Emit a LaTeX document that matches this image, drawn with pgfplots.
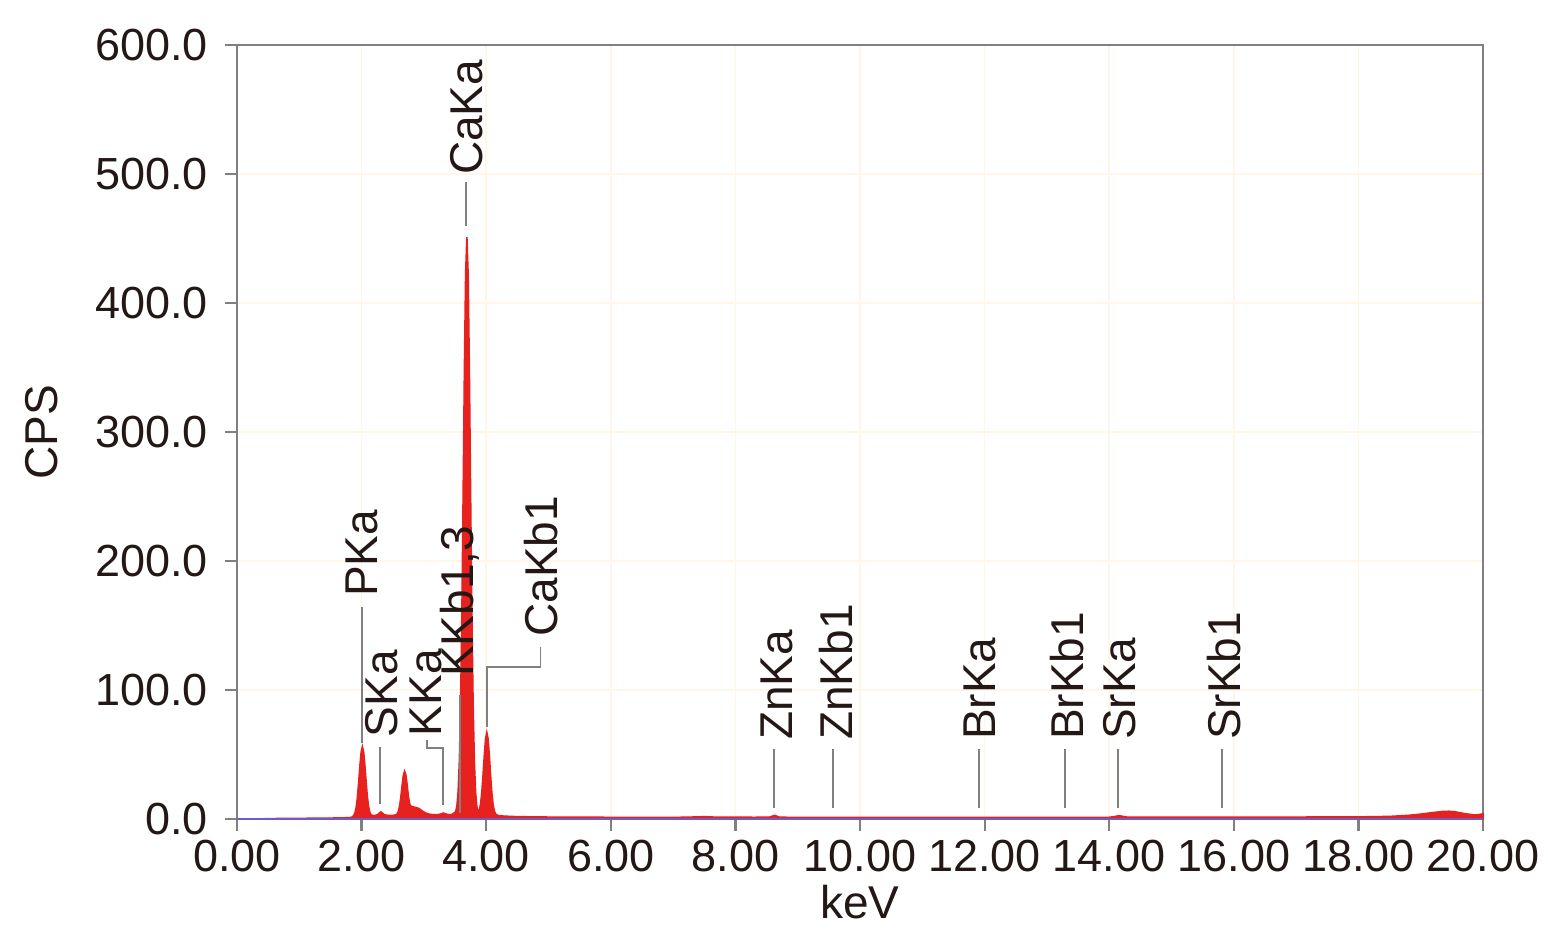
\documentclass[border=0pt]{standalone}
\usepackage{pgfplots}
\pgfplotsset{compat=1.18}
\usepackage{fontspec}
\setmainfont{Liberation Sans}
\definecolor{specred}{RGB}{230,33,30}
\definecolor{gridc}{RGB}{255,246,232}
\definecolor{axc}{RGB}{128,128,128}
\definecolor{txt}{RGB}{35,24,21}
\definecolor{basel}{RGB}{110,90,200}
\begin{document}
\begin{tikzpicture}[font=\fontsize{22.5}{27}\selectfont, text=txt]
\begin{axis}[
  scale only axis, width=623pt, height=387pt,
  xmin=0, xmax=20, ymin=0, ymax=600,
  xtick={0,2,...,20}, ytick={0,100,...,600},
  tick pos=left, tick align=outside,
  major tick length=6pt,
  axis line style={axc, line width=1.1pt},
  every tick/.style={axc, line width=1.1pt},
  grid=major, major grid style={gridc, line width=0.8pt},
  /pgf/number format/assume math mode=true,
  xticklabel={\pgfmathprintnumber[fixed,fixed zerofill,precision=2]{\tick}},
  yticklabel={\pgfmathprintnumber[fixed,fixed zerofill,precision=1]{\tick}},
  /pgf/number format/1000 sep={},
  tick label style={font=\fontsize{22.5}{27}\selectfont, text=txt},
  yticklabel style={xshift=-5pt},
  xticklabel style={yshift=-1pt},
  label style={font=\fontsize{23}{27}\selectfont, text=txt},
  xlabel={keV}, ylabel={CPS},
  ylabel style={yshift=12pt},
  clip=false,
]
\addplot[fill=specred, draw=specred, line width=0.8pt] coordinates {
(0.4,0) (0.5,0.3) (1.0,0.5) (1.5,0.7) (1.8,1.0) (1.85,1.5)
(1.873,2.6) (1.893,4.6) (1.913,9.0) (1.933,16.8) (1.953,28.2) (1.973,41.2) (1.993,51.8)
(2.013,56) (2.033,51.8) (2.053,41.2) (2.073,28.4) (2.093,17.0) (2.113,9.3) (2.133,5.0)
(2.153,3.3) (2.18,2.6) (2.22,2.8) (2.25,3.2) (2.28,4.3) (2.31,5.5) (2.34,4.3) (2.37,3.2)
(2.42,2.8) (2.50,2.8) (2.56,3.2) (2.57,3.9) (2.59,5.9) (2.61,10.0) (2.63,17.0) (2.65,25.9)
(2.67,33.8) (2.69,37) (2.71,34.3) (2.73,26.9) (2.75,18) (2.77,12) (2.79,10) (2.82,9.5)
(2.86,9) (2.90,8.5) (2.94,7.5) (2.98,6) (3.02,4.8) (3.08,3.8) (3.15,3.3) (3.22,3.3)
(3.27,3.8) (3.31,4.6) (3.35,3.9) (3.40,3.3) (3.45,3.5)
(3.51,5.6) (3.53,10) (3.55,21.5) (3.57,45.7) (3.59,90.6) (3.61,159.5) (3.63,250.8)
(3.65,347.1) (3.67,422.3) (3.69,451) (3.71,422.3) (3.73,347.1) (3.75,250.3) (3.77,158.5)
(3.79,88.6) (3.81,44.7) (3.83,20.5) (3.85,9.5) (3.87,5.5) (3.89,6.8) (3.91,11.6)
(3.93,20.8) (3.95,34.2) (3.97,49.5) (3.99,62.1) (4.01,67) (4.03,62.1) (4.05,49.5)
(4.07,34.2) (4.09,20.8) (4.11,11.4) (4.13,6.4) (4.15,3.8) (4.20,2.5) (4.30,2.2)
(4.5,1.8) (5.0,1.5) (5.5,1.4) (6.0,1.3) (6.5,1.2) (7.0,1.2) (7.3,1.5) (7.5,1.8) (7.7,1.4)
(8.0,1.5) (8.3,1.3) (8.55,1.5) (8.63,2.8) (8.7,1.5) (8.9,1.2) (9.57,1.3) (10,1.2)
(11,1.2) (12,1.2) (13,1.3) (14,1.3) (14.1,2.0) (14.16,2.6) (14.22,2.0) (14.3,1.4)
(15,1.4) (16,1.4) (17,1.5) (18,1.6) (18.5,2.0) (18.8,2.8) (19.0,3.8) (19.2,5.0)
(19.35,5.8) (19.45,6.0) (19.55,5.6) (19.7,4.2) (19.85,3.2) (19.92,3.3) (20.0,4.0)
} \closedcycle;
\addplot[basel, line width=0.6pt] coordinates {(0,0) (20,0)};
% peak labels
\begin{scope}[axc, line width=0.8pt]
\draw (axis cs:2.01,164) -- (axis cs:2.01,59);
\draw (axis cs:2.30,56) -- (axis cs:2.30,12);
\draw (axis cs:3.05,61) -- (axis cs:3.05,55) -- (axis cs:3.31,55) -- (axis cs:3.31,11);
\draw (axis cs:3.58,96) -- (axis cs:3.58,5);
\draw (axis cs:3.68,494) -- (axis cs:3.68,460);
\draw (axis cs:4.87,133) -- (axis cs:4.87,118) -- (axis cs:4.01,118) -- (axis cs:4.01,71);
\draw (axis cs:8.62,54) -- (axis cs:8.62,8.5);
\draw (axis cs:9.57,54) -- (axis cs:9.57,8.5);
\draw (axis cs:11.91,54) -- (axis cs:11.91,8.5);
\draw (axis cs:13.29,54) -- (axis cs:13.29,8.5);
\draw (axis cs:14.14,54) -- (axis cs:14.14,8.5);
\draw (axis cs:15.81,54) -- (axis cs:15.81,8.5);
\end{scope}
\begin{scope}[every node/.style={rotate=90, anchor=west, inner sep=0pt, text=txt, font=\fontsize{23}{27}\selectfont}]
\node at (axis cs:2.01,172) {PKa};
\node at (axis cs:2.32,63) {SKa};
\node at (axis cs:3.03,64) {KKa};
\node at (axis cs:3.58,110) {KKb1,3};
\node at (axis cs:3.68,499) {CaKa};
\node at (axis cs:4.88,141) {CaKb1};
\node at (axis cs:8.67,61) {ZnKa};
\node at (axis cs:9.61,61) {ZnKb1};
\node at (axis cs:11.93,61) {BrKa};
\node at (axis cs:13.33,61) {BrKb1};
\node at (axis cs:14.17,61) {SrKa};
\node at (axis cs:15.85,61) {SrKb1};
\end{scope}
\end{axis}
\path (current axis.south west) ++(-118.5pt,-54.5pt) rectangle ++(774pt,464pt);
\end{tikzpicture}
\end{document}
